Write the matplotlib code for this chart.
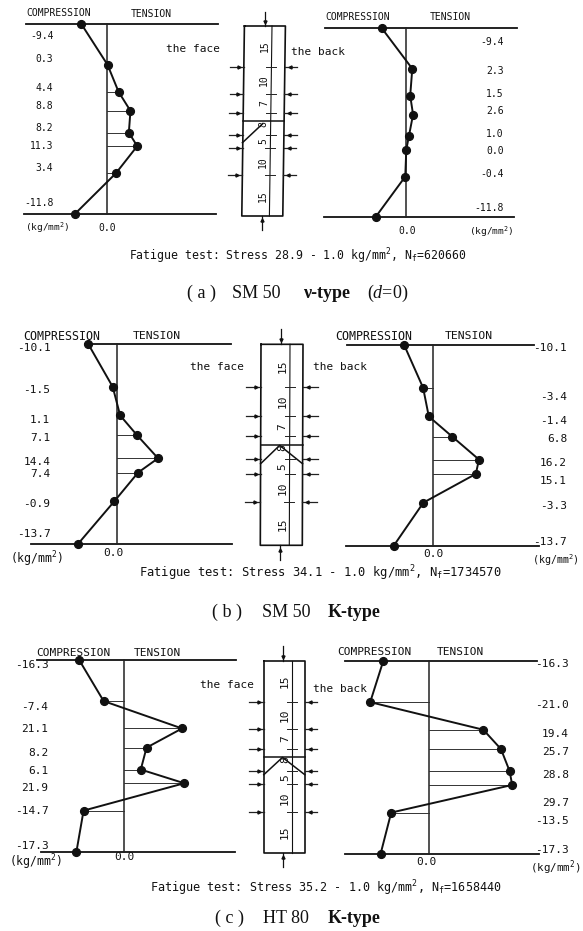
import matplotlib
matplotlib.use("Agg")
import matplotlib.pyplot as plt

W, H = 583, 931
plt.rcParams["font.family"] = ["DejaVu Sans Mono"]
plt.rcParams["mathtext.default"] = "regular"
plt.rcParams["mathtext.fontset"] = "custom"
plt.rcParams["mathtext.it"] = "Liberation Serif:italic"
plt.rcParams["mathtext.rm"] = "Liberation Serif"

INK = "#111111"
SERIF = "Liberation Serif"

# gauge positions along the specimen (mm)
depths = [0, 15, 25, 32, 40, 45, 55, 70]
spans = [(0, 15), (15, 25), (25, 32), (32, 40), (40, 45), (45, 55), (55, 70)]
span_names = ["15", "10", "7", "8", "5", "10", "15"]

# stress values (kg/mm2)
a_face = [-9.4, 0.3, 4.4, 8.8, 8.2, 11.3, 3.4, -11.8]
a_back = [-9.4, 2.3, 1.5, 2.6, 1.0, 0.0, -0.4, -11.8]
b_face = [-10.1, -1.5, 1.1, 7.1, 14.4, 7.4, -0.9, -13.7]
b_back = [-10.1, -3.4, -1.4, 6.8, 16.2, 15.1, -3.3, -13.7]
c_face = [-16.3, -7.4, 21.1, 8.2, 6.1, 21.9, -14.7, -17.3]
c_back = [-16.3, -21.0, 19.4, 25.7, 28.8, 29.7, -13.5, -17.3]

# which gauges have a leader line back to the zero axis
a_face_lead = [2, 3, 4, 5, 6]
a_back_lead = []
b_face_lead = [3, 4, 5]
b_back_lead = [1, 3, 4, 5]
c_face_lead = [1, 2, 3, 4, 5, 6]
c_back_lead = [1, 2, 3, 4, 5, 6]

fig = plt.figure(figsize=(W / 100, H / 100), dpi=100, facecolor="white")


def put(x, y, s, ha="left", size=7, **kw):
    fig.text(x / W, 1 - y / H, s, ha=ha, va="center", fontsize=size, color=INK, **kw)


def new_axes(x0, x1, top, bottom):
    ax = fig.add_axes([x0 / W, 1 - bottom / H, (x1 - x0) / W, (bottom - top) / H])
    ax.axis("off")
    ax.patch.set_alpha(0)
    return ax


def profile(values, lead, zero, scale, top, bottom, top_line, bot_line):
    x0 = min(top_line[0], bot_line[0])
    x1 = max(top_line[1], bot_line[1])
    ax = new_axes(x0, x1, top, bottom)
    ax.set_xlim((x0 - zero) / scale, (x1 - zero) / scale)
    ax.set_ylim(70, 0)
    to_val = lambda px: (px - zero) / scale
    ax.plot([to_val(top_line[0]), to_val(top_line[1])], [0, 0], color=INK, lw=1.3, clip_on=False)
    ax.plot([to_val(bot_line[0]), to_val(bot_line[1])], [70, 70], color=INK, lw=1.3, clip_on=False)
    ax.plot([0, 0], [0, 70], color="#222222", lw=1.1, clip_on=False)
    for i in lead:
        ax.plot([0, values[i]], [depths[i], depths[i]], color="#333333", lw=0.7, clip_on=False)
    ax.plot(values, depths, color=INK, lw=1.4, marker="o", ms=5.6, clip_on=False, zorder=5)


def specimen(left, right, center, arrow, top, bottom, shift, out_l, out_r, weld, groove, num_size):
    ax = new_axes(0, W, top, bottom)
    ax.set_xlim(0, W)
    ax.set_ylim(70, 0)
    sx = lambda x, d: x + shift * d / 70
    ax.plot([sx(left, 0), sx(right, 0), sx(right, 70), sx(left, 70), sx(left, 0)],
            [0, 0, 70, 70, 0], color=INK, lw=1.2, clip_on=False)
    ax.plot([sx(center, 0), sx(center, 70)], [0, 70], color=INK, lw=0.8, clip_on=False)
    ax.plot([sx(left, weld), sx(right, weld)], [weld, weld], color=INK, lw=1.1, clip_on=False)
    ax.plot([sx(p[0], p[1]) for p in groove], [p[1] for p in groove], color=INK, lw=1.1, clip_on=False)
    # load arrows
    ax.plot([arrow, arrow], [-5.2, 0], color=INK, lw=0.9, clip_on=False)
    ax.plot([arrow], [-1.5], color=INK, marker="v", ms=2.2, clip_on=False)
    ax.plot([arrow + shift, arrow + shift], [70, 75], color=INK, lw=0.9, clip_on=False)
    ax.plot([arrow + shift], [71.5], color=INK, marker="^", ms=2.2, clip_on=False)
    for d in depths[1:-1]:
        ax.plot([sx(out_l, d), sx(left, d)], [d, d], color="#222222", lw=0.9, clip_on=False)
        ax.plot([sx(right, d), sx(out_r, d)], [d, d], color="#222222", lw=0.9, clip_on=False)
        ax.plot([sx(left - 5, d)], [d], color=INK, marker=">", ms=2.2, clip_on=False)
        ax.plot([sx(right + 5, d)], [d], color=INK, marker="<", ms=2.2, clip_on=False)
        ax.plot([sx(center - 5, d), sx(center + 5, d)], [d, d], color="#222222", lw=0.7, clip_on=False)
    for (d0, d1), name in zip(spans, span_names):
        mid = (d0 + d1) / 2
        ax.text(sx(center - 7, mid), mid, name, rotation=90, ha="center", va="center",
                fontsize=num_size, color=INK)


def labels(x, ys, values, size=7):
    for y, v in zip(ys, values):
        put(x, y, f"{v:.1f}", ha="right", size=size)


# (a)
profile(a_face, a_face_lead, 106.7, 2.7, 24, 214, (26, 218), (24, 216))
profile(a_back, a_back_lead, 406.3, 2.6, 28.3, 217, (325, 517), (324, 514))
specimen(244.4, 285.4, 272, 264.5, 26, 216, -2.6, 230.5, 298, 35, [(264, 36), (244, 43)], 7)
put(26, 13.3, "COMPRESSION")
put(130.6, 14, "TENSION")
put(325.7, 16.7, "COMPRESSION")
put(430, 17.3, "TENSION")
labels(53.4, [36, 59, 87.7, 106, 128.3, 145.7, 168.3, 202.7], a_face)
labels(503.7, [41.7, 70.7, 94, 110.7, 133.7, 151, 173.7, 208.3], a_back)
put(24.6, 227.3, "(kg/mm$^{2}$)", size=6.8)
put(107, 227.7, "0.0", ha="center")
put(406.7, 231, "0.0", ha="center")
put(469.4, 231.7, "(kg/mm$^{2}$)", size=6.8)
put(166, 49.3, "the face", size=8)
put(291, 51.7, "the back", size=8)
put(128.7, 256.7, "Fatigue test: Stress 28.9 - 1.0 kg/mm$^{2}$, N$_{f}$=620660", size=8.3)
put(201.5, 293.3, "( a )", ha="center", size=13, family=SERIF)
put(256.5, 293.3, "SM 50", ha="center", size=13, family=SERIF)
put(327, 293.3, "ν-type", ha="center", size=13, family=SERIF, weight="bold")
put(388, 293.3, "($\\mathit{d}$=0)", ha="center", size=13, family=SERIF)

# (b)
profile(b_face, b_face_lead, 117, 2.85, 344, 544, (85, 231), (31, 232))
profile(b_back, b_back_lead, 432.8, 2.85, 344.7, 545.7, (347, 534), (346, 539))
specimen(261, 303, 290, 280.5, 344.3, 545.3, -0.7, 246, 318, 35.2,
         [(261, 41.6), (280, 35.2), (303, 41.6)], 8)
put(23, 336, "COMPRESSION", size=8.4)
put(132.5, 336, "TENSION", size=8.2)
put(335, 336, "COMPRESSION", size=8.4)
put(444.8, 336, "TENSION", size=8.2)
labels(50.4, [348.3, 390, 420, 438.3, 461.7, 474.3, 504, 534.3], b_face, size=8)
labels(567, [348.3, 396.7, 420.7, 439, 463, 481.3, 505.7, 541.7], b_back, size=8)
put(10, 559.3, "(kg/mm$^{2}$)", size=8.3)
put(113, 553.3, "0.0", ha="center", size=8)
put(433.6, 554.3, "0.0", ha="center", size=8)
put(532, 560, "(kg/mm$^{2}$)", size=7.2)
put(190, 366.7, "the face", size=8)
put(313.4, 367.3, "the back", size=8)
put(138.8, 573.3, "Fatigue test: Stress 34.1 - 1.0 kg/mm$^{2}$, N$_{f}$=1734570", size=8.7)
put(227, 612.3, "( b )", ha="center", size=13, family=SERIF)
put(286, 612.3, "SM 50", ha="center", size=13, family=SERIF)
put(354.5, 612.3, "K-type", ha="center", size=13, family=SERIF, weight="bold")

# (c)
profile(c_face, c_face_lead, 124, 2.75, 660, 851.7, (37, 236), (41, 235))
profile(c_back, c_back_lead, 429, 2.8, 660.7, 854, (345, 537), (345, 539))
specimen(263.8, 304.8, 291.8, 282.5, 660.7, 853, 0, 249, 317, 35.2,
         [(263.8, 41.5), (282.5, 35.2), (304.8, 41.5)], 8)
put(36, 652.7, "COMPRESSION", size=8)
put(134, 652.7, "TENSION", size=8)
put(337.7, 652.3, "COMPRESSION", size=8)
put(436.6, 652.3, "TENSION", size=8)
labels(48.5, [665, 706.7, 729.3, 752.7, 771, 787.7, 811, 846], c_face, size=8)
labels(569, [664, 705, 734, 751.7, 775.3, 803.3, 821.3, 850], c_back, size=8)
put(9, 862.3, "(kg/mm$^{2}$)", size=8.3)
put(124, 856.7, "0.0", ha="center", size=8)
put(426.5, 862.3, "0.0", ha="center", size=8)
put(530, 867.7, "(kg/mm$^{2}$)", size=7.8)
put(200, 685.3, "the face", size=8)
put(313.4, 689, "the back", size=8)
put(150, 888.3, "Fatigue test: Stress 35.2 - 1.0 kg/mm$^{2}$, N$_{f}$=1658440", size=8.5)
put(229.5, 918.7, "( c )", ha="center", size=13, family=SERIF)
put(285.5, 918.7, "HT 80", ha="center", size=13, family=SERIF)
put(353.7, 918.7, "K-type", ha="center", size=13, family=SERIF, weight="bold")

fig.savefig("out.png", dpi=100, facecolor="white")
